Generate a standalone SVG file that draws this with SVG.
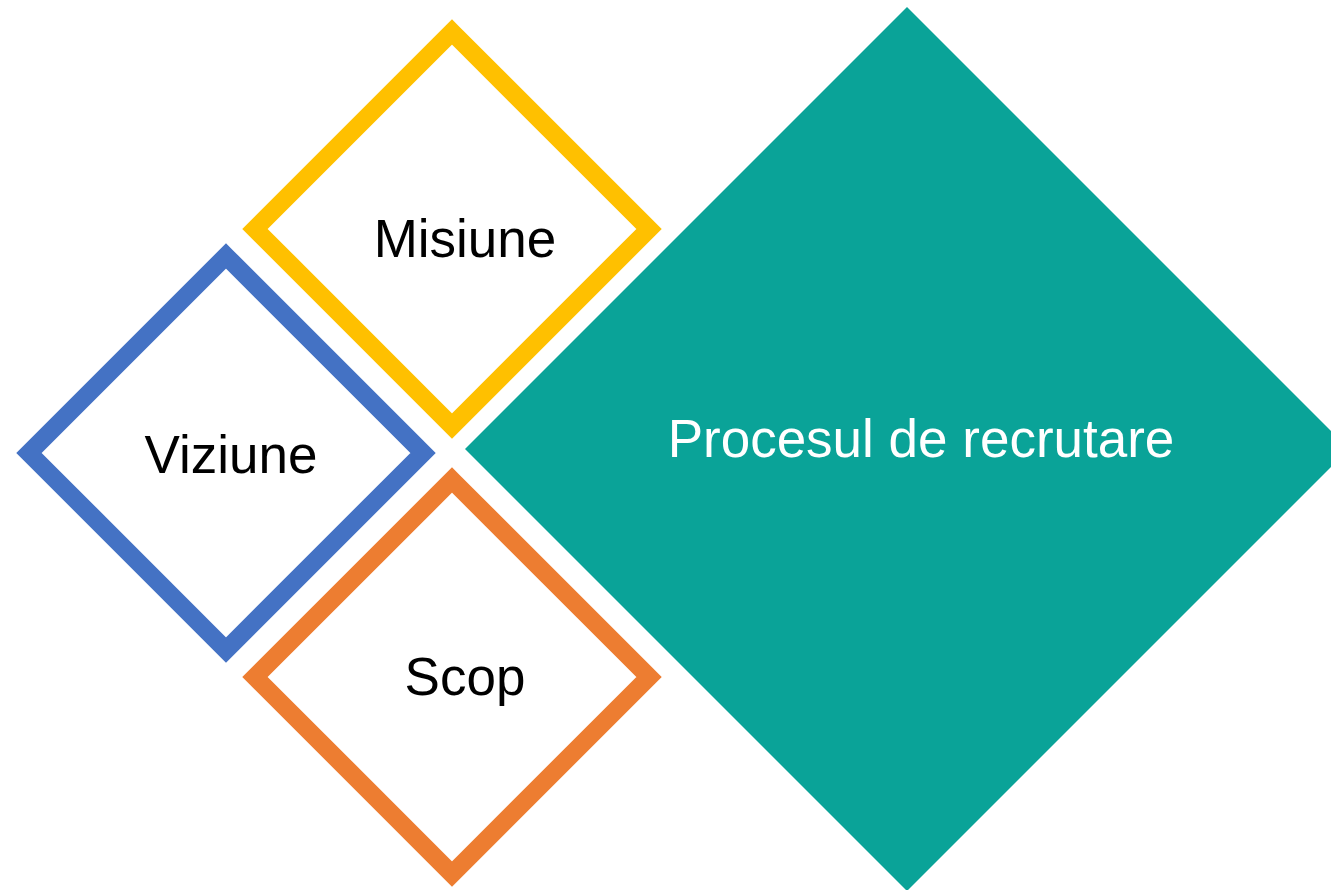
<svg xmlns="http://www.w3.org/2000/svg" width="1331" height="890" viewBox="0 0 1331 890">
  <style>
    .frame { fill: #FFFFFF; stroke-width: 18; stroke-linejoin: miter; stroke-miterlimit: 10; }
    .lbl { font-family: "Liberation Sans", Arial, sans-serif; font-size: 53px; text-anchor: middle; fill: #000000; }
    .lblw { fill: #FFFFFF; }
  </style>
  <rect x="0" y="0" width="1331" height="890" fill="#FFFFFF"/>
  <g id="node-procesul">
    <polygon points="907,7 1349,449 907,891 465,449" fill="#0AA398"/>
    <text class="lbl lblw" x="921" y="457">Procesul de recrutare</text>
  </g>
  <g id="node-misiune">
    <polygon class="frame" stroke="#FFC000" points="452,32 649,229 452,426 255,229"/>
    <text class="lbl" x="465" y="257">Misiune</text>
  </g>
  <g id="node-viziune">
    <polygon class="frame" stroke="#4472C4" points="226,256 423,453 226,650 29,453"/>
    <text class="lbl" x="231" y="473">Viziune</text>
  </g>
  <g id="node-scop">
    <polygon class="frame" stroke="#ED7D31" points="452,480 649,677 452,874 255,677"/>
    <text class="lbl" x="465" y="695">Scop</text>
  </g>
  <g id="connectors"></g>
</svg>
